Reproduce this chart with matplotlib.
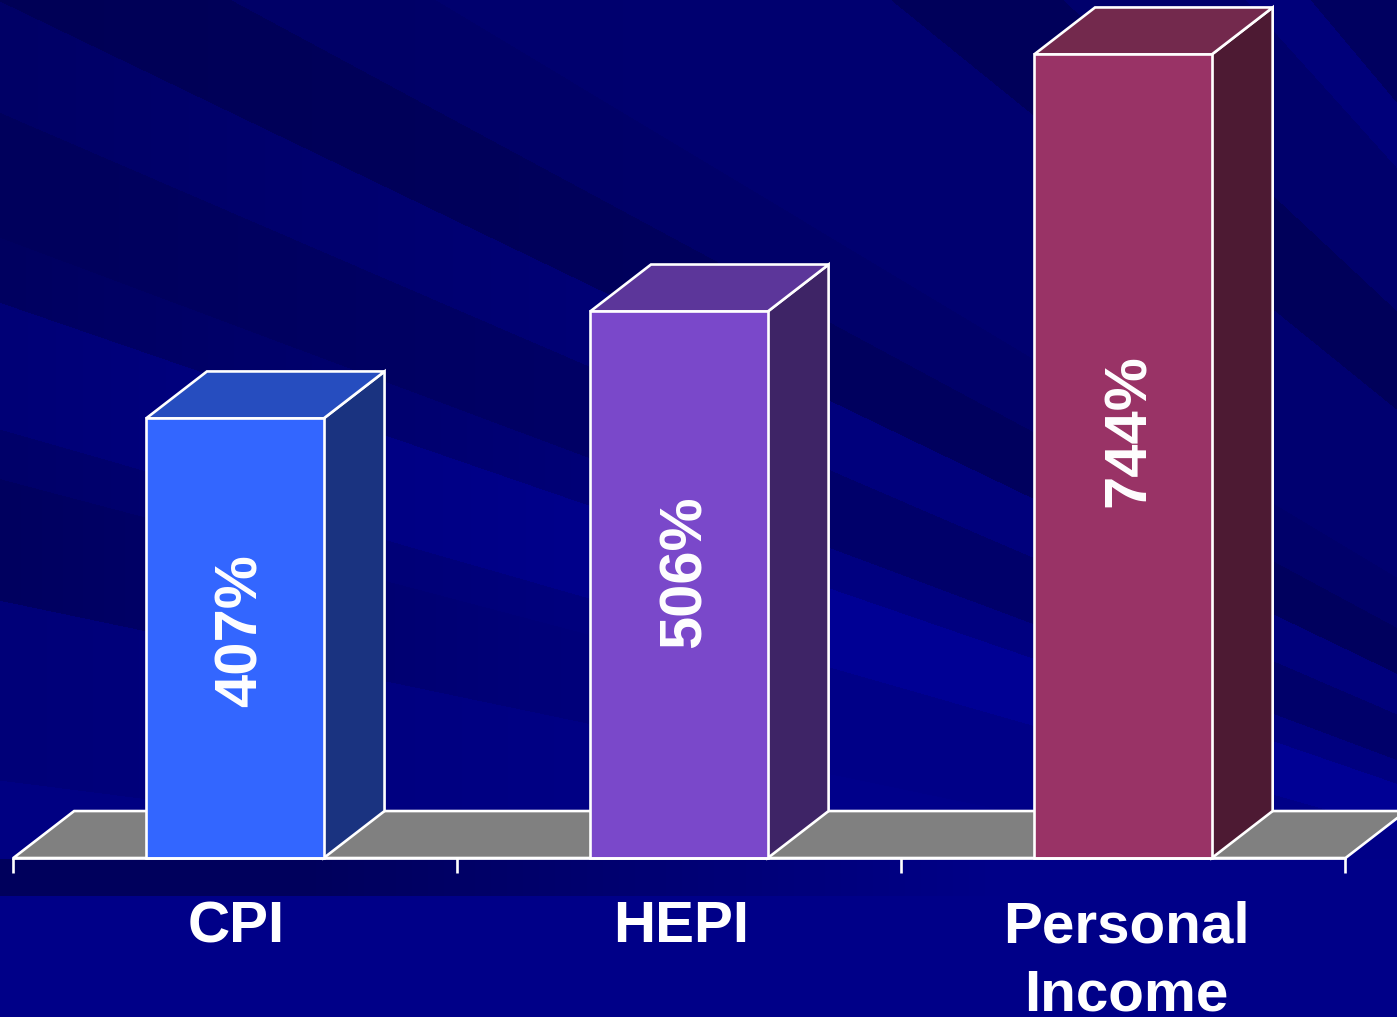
import numpy as np
import matplotlib
matplotlib.use("Agg")
import matplotlib.pyplot as plt

categories = ["CPI", "HEPI", "Personal\nIncome"]
values = [407, 506, 744]
labels = ["407%", "506%", "744%"]
front_colors = ["#3366FF", "#7A48CA", "#993366"]
side_colors = ["#1A3380", "#3E2466", "#4D1A33"]
top_colors = ["#264DBF", "#5C369A", "#73294D"]

# background streaks: angle seen from the vanishing point, blue level at left and at mid picture
streak_edges = [0, 7.25, 11.8, 14.8, 16, 19, 20.5, 23.3, 25.7, 28.3, 31, 39, 43, 48, 50, 70]
blue_left = [130, 120, 95, 105, 118, 96, 92, 102, 86, 102, 108, 90, 108, 122, 96]
blue_mid = [135, 138, 135, 135, 148, 128, 106, 124, 94, 106, 112, 90, 108, 122, 96]

bar_w = 0.40
depth_x = 0.137
depth_y = 43.5
floor_y = 43.5
lw = 1.9

plt.rcParams["font.family"] = ["Liberation Sans", "DejaVu Sans"]
plt.rcParams["font.weight"] = "bold"

fig = plt.figure(figsize=(13.97, 10.17), dpi=100)
ax = fig.add_axes([0, 0, 1, 1])
ax.set_xlim(-0.530, 2.616)
ax.set_ylim(-147.2, 794.4)

# background
h, w = 1017, 1397
yy, xx = np.mgrid[0:h, 0:w]
ang = np.degrees(np.arctan2(1060 - yy, 2200 - xx))
idx = np.clip(np.searchsorted(streak_edges, ang) - 1, 0, len(blue_left) - 1)
t = np.clip(xx / 830, 0, 1)
blue = np.array(blue_left, dtype=float)[idx] * (1 - t) + np.array(blue_mid, dtype=float)[idx] * t
# flat part under the floor
blue[yy > 895] = 136
band = (yy > 858) & (yy <= 895)
blue[band] = 92 + 44 * np.clip((xx[band] - 300) / 700, 0, 1)
bg = np.zeros((h, w, 3))
bg[..., 2] = blue / 255
ax.imshow(bg, extent=(-0.530, 2.616, -147.2, 794.4), aspect="auto", zorder=0, interpolation="bilinear")

# floor
ax.fill([-0.5, -0.5 + depth_x, 2.5 + depth_x, 2.5], [0, floor_y, floor_y, 0],
        facecolor="#808080", edgecolor="white", linewidth=lw, zorder=1)

# bars with side and top faces
xs = np.arange(len(values)) - 0.001
for i, v in enumerate(values):
    l = xs[i] - bar_w / 2
    r = xs[i] + bar_w / 2
    ax.fill([r, r + depth_x, r + depth_x, r], [0, depth_y, v + depth_y, v],
            facecolor=side_colors[i], edgecolor="white", linewidth=lw, zorder=2)
    ax.fill([l, l + depth_x, r + depth_x, r], [v, v + depth_y, v + depth_y, v],
            facecolor=top_colors[i], edgecolor="white", linewidth=lw, zorder=2)
ax.bar(xs, values, width=bar_w, color=front_colors, edgecolor="white", linewidth=lw, zorder=3)

for i, v in enumerate(values):
    ax.text(xs[i] + 0.014, v * 0.55 - 13, labels[i], rotation=90, color="white", fontsize=43,
            fontweight="bold", ha="center", va="center", zorder=4)
    ax.text(xs[i] + 0.003 + 0.002 * i, -39, categories[i], color="white", fontsize=42, fontweight="bold",
            ha="center", va="top", linespacing=1.35, zorder=4)

# axis
for s in ["top", "left", "right"]:
    ax.spines[s].set_visible(False)
ax.spines["bottom"].set_position(("data", 0))
ax.spines["bottom"].set_bounds(-0.5, 2.5)
ax.spines["bottom"].set_color("white")
ax.spines["bottom"].set_linewidth(lw)
ax.spines["bottom"].set_zorder(5)
ax.set_xticks([-0.5, 0.5, 1.5, 2.5])
ax.set_xticklabels([])
ax.set_yticks([])
ax.tick_params(axis="x", length=10.5, width=lw, color="white", direction="out")

fig.savefig("out.png", dpi=100)
